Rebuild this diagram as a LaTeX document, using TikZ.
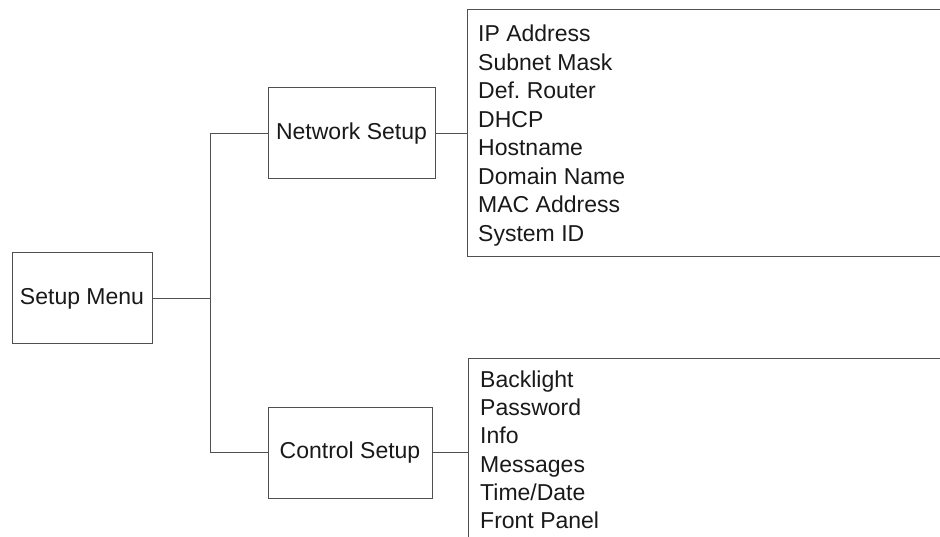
\documentclass[tikz,border=0pt]{standalone}
\usepackage{fontspec}
\setmainfont{Liberation Sans}
\frenchspacing
\definecolor{linegray}{RGB}{80,80,80}
\definecolor{txt}{RGB}{25,25,25}
\tikzset{
  menubox/.style={draw=linegray, line width=1pt, minimum height=91pt, inner sep=0pt, text=txt,
    font=\fontsize{23}{28}\selectfont},
  listbox/.style={draw=linegray, line width=1pt, anchor=north west, minimum width=600pt, inner sep=0pt},
  item/.style={anchor=base west, inner sep=0pt, text=txt, font=\fontsize{23}{28}\selectfont},
  conn/.style={draw=linegray, line width=1pt}
}
\begin{document}
\begin{tikzpicture}[x=1pt,y=-1pt]
\useasboundingbox (0,0) rectangle (940,537);
\clip (0,0) rectangle (940,537);
% main boxes
\node[menubox, minimum width=140pt] (sm) at (82,298.5) {Setup Menu};
\node[menubox, minimum width=167pt] (ns) at (351.5,133.5) {Network Setup};
\node[menubox, minimum width=164pt] (cs) at (350,452.5) {Control Setup};
% list boxes
\node[listbox, minimum height=247pt] (nl) at (467,9) {};
\node[listbox, minimum height=300pt] (cl) at (468,358) {};
% connectors
\coordinate (trunk) at (210.5,298.5);
\draw[conn] (sm.east) -- (trunk);
\draw[conn] (ns.west) -| (trunk) |- (cs.west);
\draw[conn] (ns.east) -- (nl.west |- ns.east);
\draw[conn] (cs.east) -- (cl.west |- cs.east);
% network items
\node[item] (n1) at (478,41.7) {IP Address};
\node[item] (n2) at (478,70.2) {Subnet Mask};
\node[item] (n3) at (478,98.7) {Def. Router};
\node[item] (n4) at (478,127.2) {DHCP};
\node[item] (n5) at (478,155.7) {Hostname};
\node[item] (n6) at (478,184.2) {Domain Name};
\node[item] (n7) at (478,212.7) {MAC Address};
\node[item] (n8) at (478,241.2) {System ID};
% control items
\node[item] (c1) at (480,387.7) {Backlight};
\node[item] (c2) at (480,415.8) {Password};
\node[item] (c3) at (480,443.9) {Info};
\node[item] (c4) at (480,472.0) {Messages};
\node[item] (c5) at (480,500.1) {Time/Date};
\node[item] (c6) at (480,528.3) {Front Panel};
\end{tikzpicture}
\end{document}
